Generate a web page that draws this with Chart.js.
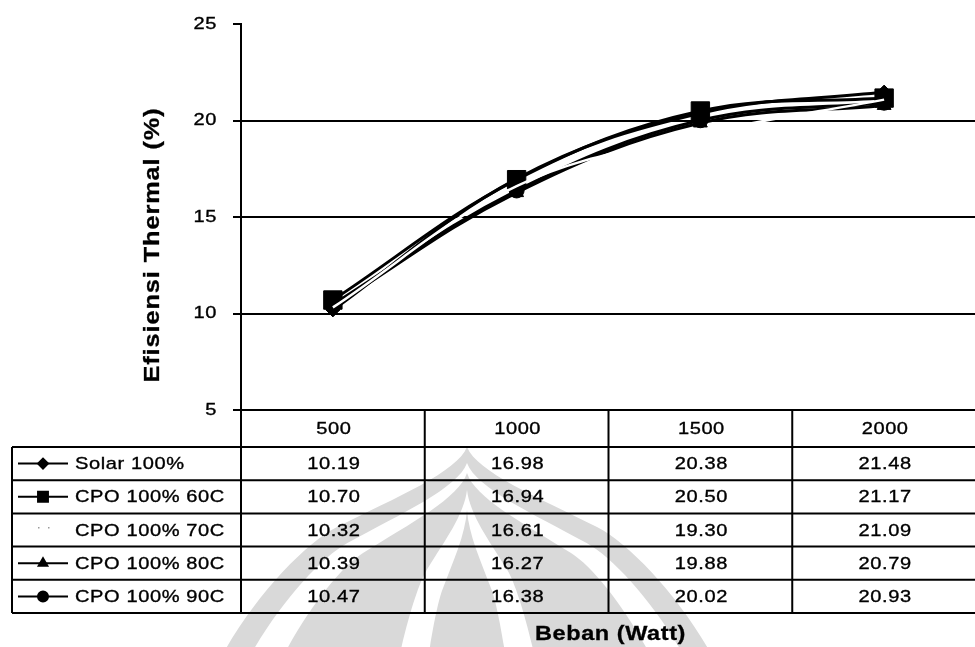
<!DOCTYPE html>
<html>
<head>
<meta charset="utf-8">
<script src="https://cdn.jsdelivr.net/npm/chart.js@4/dist/chart.umd.min.js"></script>
<style>
  html, body { margin: 0; padding: 0; background: #fff; overflow: hidden; }
  #wrap { position: relative; width: 990px; height: 647px; }
</style>
</head>
<body>
<div id="wrap"><canvas id="c" width="990" height="647"></canvas></div>
<script>
// Beban (Watt) categories
const loads = ['500', '1000', '1500', '2000'];

// Efisiensi thermal (%) per fuel
const solar100 = [10.19, 16.98, 20.38, 21.48];
const cpo60 = [10.70, 16.94, 20.50, 21.17];
const cpo70 = [10.32, 16.61, 19.30, 21.09];
const cpo80 = [10.39, 16.27, 19.88, 20.79];
const cpo90 = [10.47, 16.38, 20.02, 20.93];

const seriesNames = ['Solar 100%', 'CPO 100% 60C', 'CPO 100% 70C', 'CPO 100% 80C', 'CPO 100% 90C'];

// y axis range
const yMin = 5, yMax = 25, yStep = 5;

const FONT = '"Liberation Sans", Arial, sans-serif';

// ---- light grey emblem printed behind the lower part of the page ----
// outline of the left half, relative to the tip (x to the left is negative)
const domeA = [[-10, 25], [-70, 50], [-130, 80]];
const domeB = [[-170, 100], [-240, 180], [-265, 253]];
function dome(ctx, cx, tip, sx) {
  const P = (p, side) => [cx + side * sx * -p[0] * -1, tip + p[1]];
  ctx.beginPath();
  ctx.moveTo(cx, tip);
  for (const side of [1]) {
    const a = domeA.map(p => [cx + sx * p[0], tip + p[1]]);
    const b = domeB.map(p => [cx + sx * p[0], tip + p[1]]);
    ctx.bezierCurveTo(a[0][0], a[0][1], a[1][0], a[1][1], a[2][0], a[2][1]);
    ctx.bezierCurveTo(b[0][0], b[0][1], b[1][0], b[1][1], b[2][0], b[2][1]);
    ctx.lineTo(cx, b[2][1]);
  }
  ctx.closePath();
  ctx.fill();
  ctx.beginPath();
  ctx.moveTo(cx, tip);
  const a2 = domeA.map(p => [cx - sx * p[0], tip + p[1]]);
  const b2 = domeB.map(p => [cx - sx * p[0], tip + p[1]]);
  ctx.bezierCurveTo(a2[0][0], a2[0][1], a2[1][0], a2[1][1], a2[2][0], a2[2][1]);
  ctx.bezierCurveTo(b2[0][0], b2[0][1], b2[1][0], b2[1][1], b2[2][0], b2[2][1]);
  ctx.lineTo(cx, b2[2][1]);
  ctx.closePath();
  ctx.fill();
}
function drawEmblem(ctx) {
  const grey = '#d9d9d9', white = '#ffffff', cx = 467;
  ctx.save();
  ctx.fillStyle = grey;  dome(ctx, cx, 447, 1.0);
  ctx.fillStyle = white; dome(ctx, cx, 463, 0.92);
  ctx.fillStyle = grey;  dome(ctx, cx, 473, 0.8);
  ctx.fillStyle = white; dome(ctx, cx, 490, 0.31);
  ctx.fillStyle = grey;  dome(ctx, cx, 510, 0.19);
  ctx.restore();
}

// text helper: slightly widened glyphs, optional rotation
function text(ctx, str, x, y, opts) {
  const o = Object.assign({ size: 17, bold: false, align: 'center', sx: 1.18, spacing: 0.5, rot: 0, weight: 0.35 }, opts);
  ctx.save();
  ctx.translate(x, y);
  if (o.rot) ctx.rotate(o.rot);
  ctx.scale(o.sx, 1);
  ctx.font = (o.bold ? 'bold ' : '') + o.size + 'px ' + FONT;
  ctx.letterSpacing = o.spacing + 'px';
  ctx.textAlign = o.align;
  ctx.textBaseline = 'middle';
  ctx.fillStyle = '#000';
  ctx.strokeStyle = '#000';
  ctx.lineWidth = o.weight;
  ctx.fillText(str, 0, 0);
  if (o.weight > 0) ctx.strokeText(str, 0, 0);
  ctx.restore();
}

// legend marker sizes inside the data table
const legendRadius = [5, 7, 0, 5, 5];

const tablePlugin = {
  id: 'dataTable',
  beforeDraw(chart) {
    drawEmblem(chart.ctx);
  },
  afterDraw(chart) {
    const { ctx, chartArea } = chart;
    const x = chart.scales.x, y = chart.scales.y;
    const left = chartArea.left, right = chartArea.right;
    const top = chartArea.bottom;
    const headerH = 37, rowH = 33.2, tableLeft = 12;
    const bodyTop = top + headerH;
    const sets = chart.data.datasets;
    const bottom = bodyTop + sets.length * rowH;
    const n = chart.data.labels.length;

    ctx.save();
    ctx.strokeStyle = '#000';
    ctx.lineWidth = 2;
    ctx.beginPath();
    // column separators
    ctx.moveTo(left, top); ctx.lineTo(left, bottom);
    for (let i = 0; i < n; i++) {
      const bx = i < n - 1 ? (x.getPixelForTick(i) + x.getPixelForTick(i + 1)) / 2 : right;
      ctx.moveTo(bx, top); ctx.lineTo(bx, bottom);
    }
    ctx.moveTo(tableLeft, bodyTop); ctx.lineTo(tableLeft, bottom);
    // row separators
    for (let r = 0; r <= sets.length; r++) {
      const yy = bodyTop + r * rowH;
      ctx.moveTo(tableLeft, yy); ctx.lineTo(right, yy);
    }
    ctx.stroke();

    // y tick labels
    y.ticks.forEach((t, i) => {
      text(ctx, String(t.value), left - 24, y.getPixelForTick(i), { align: 'right' });
    });
    // category header row
    x.ticks.forEach((t, i) => {
      text(ctx, chart.data.labels[i], x.getPixelForTick(i) + 1, top + 19);
    });

    // rows: legend key + values
    sets.forEach((ds, r) => {
      const cy = bodyTop + (r + 0.5) * rowH;
      ctx.strokeStyle = ds.borderColor;
      ctx.lineWidth = 2;
      ctx.beginPath(); ctx.moveTo(18, cy); ctx.lineTo(68, cy); ctx.stroke();
      if (legendRadius[r] > 0) {
        ctx.fillStyle = ds.pointBackgroundColor;
        ctx.strokeStyle = ds.pointBorderColor;
        Chart.helpers.drawPoint(ctx, { pointStyle: ds.pointStyle, radius: legendRadius[r], rotation: 0, borderWidth: 1 }, 43, cy);
      } else {
        ctx.fillStyle = '#9a9a9a';
        ctx.fillRect(38, cy - 3, 1.5, 1.5);
        ctx.fillRect(48, cy - 3, 1.5, 1.5);
      }
      text(ctx, ds.label, 75, cy + 1, { align: 'left' });
      ds.data.forEach((v, i) => {
        text(ctx, v.toFixed(2), x.getPixelForTick(i) + 1, cy + 1);
      });
    });

    // axis titles
    text(ctx, 'Beban (Watt)', (left + right) / 2 + 2, 634, { size: 21, bold: true, sx: 1.12, spacing: 0.5, weight: 0.3 });
    text(ctx, 'Efisiensi Thermal (%)', 153, 245, { size: 22, bold: true, sx: 1.15, spacing: 0.8, rot: -Math.PI / 2, weight: 0.3 });
    ctx.restore();
  }
};

const black = '#000000';
const datasets = [
  { label: seriesNames[0], data: solar100, pointStyle: 'rectRot', pointRadius: 7, order: 1 },
  { label: seriesNames[1], data: cpo60, pointStyle: 'rect', pointRadius: 13, order: 1 },
  { label: seriesNames[2], data: cpo70, pointStyle: 'circle', pointRadius: 0, order: 0,
    borderColor: '#ffffff', borderWidth: 2.5, pointBackgroundColor: '#ffffff', pointBorderColor: '#ffffff' },
  { label: seriesNames[3], data: cpo80, pointStyle: 'triangle', pointRadius: 8, order: 1 },
  { label: seriesNames[4], data: cpo90, pointStyle: 'circle', pointRadius: 7.5, order: 1 }
].map(d => Object.assign({
  borderColor: black,
  borderWidth: 3,
  pointBackgroundColor: black,
  pointBorderColor: black,
  pointBorderWidth: 1,
  tension: 0.38,
  fill: false
}, d));

new Chart(document.getElementById('c'), {
  type: 'line',
  data: { labels: loads, datasets },
  options: {
    responsive: false,
    animation: false,
    devicePixelRatio: 1,
    layout: { padding: { top: 20, right: 5, left: 0, bottom: 0 } },
    plugins: { legend: { display: false }, tooltip: { enabled: false } },
    scales: {
      x: {
        type: 'category',
        offset: true,
        grid: { display: false, drawTicks: false },
        border: { display: false },
        ticks: {
          color: 'rgba(0,0,0,0)', font: { family: FONT, size: 17 }, padding: 9,
          autoSkip: false, maxRotation: 0, minRotation: 0
        },
        afterFit(scale) { scale.height = 237; }
      },
      y: {
        min: yMin, max: yMax,
        grid: {
          color: c => (c.tick && c.tick.value === yMax) ? 'rgba(0,0,0,0)' : '#000',
          tickColor: '#000',
          lineWidth: 2,
          tickLength: 8
        },
        border: { display: true, color: '#000', width: 2 },
        ticks: {
          stepSize: yStep, color: 'rgba(0,0,0,0)', padding: 14,
          font: { family: FONT, size: 17 }
        },
        afterFit(scale) { scale.width = 241; }
      }
    }
  },
  plugins: [tablePlugin]
});
</script>
</body>
</html>
